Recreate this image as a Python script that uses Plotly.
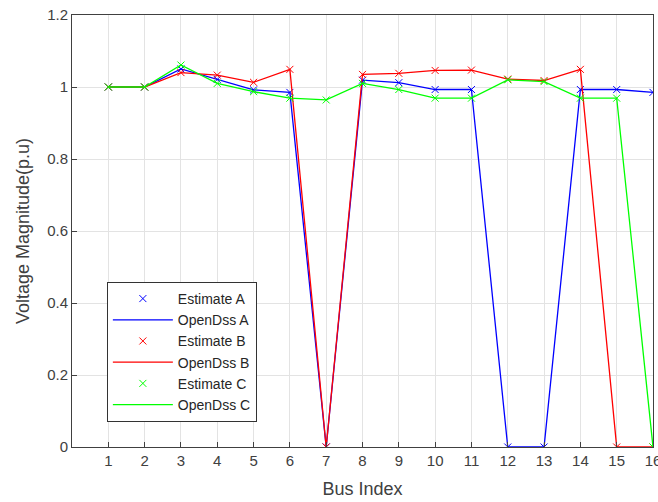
import plotly.graph_objects as go

bus = list(range(1, 17))
phase_a = [1.0, 1.0, 1.05, 1.021, 0.992, 0.985, 0.0, 1.019, 1.012, 0.993, 0.993, 0.0, 0.0, 0.993, 0.993, 0.985]
phase_b = [1.0, 1.0, 1.04, 1.033, 1.013, 1.049, 0.0, 1.035, 1.038, 1.046, 1.047, 1.022, 1.018, 1.049, 0.0, 0.0]
phase_c = [1.0, 1.0, 1.061, 1.01, 0.987, 0.969, 0.964, 1.01, 0.993, 0.969, 0.969, 1.02, 1.015, 0.969, 0.969, 0.0]
x_ticks = list(range(1, 17))
y_ticks = [0, 0.2, 0.4, 0.6, 0.8, 1.0, 1.2]
y_tick_text = ["0", "0.2", "0.4", "0.6", "0.8", "1", "1.2"]

series = [("A", phase_a, "rgb(0,0,255)"), ("B", phase_b, "rgb(255,0,0)"), ("C", phase_c, "rgb(0,255,0)")]

fig = go.Figure()
for name, vals, col in series:
    fig.add_trace(go.Scatter(x=bus, y=vals, mode="markers", name="Estimate " + name,
                             marker=dict(symbol="x-thin", size=7, line=dict(color=col, width=1), color=col)))
    fig.add_trace(go.Scatter(x=bus, y=vals, mode="lines", name="OpenDss " + name,
                             line=dict(color=col, width=1.3)))

font = "Liberation Sans, Arial, sans-serif"
fig.update_layout(
    width=658, height=502,
    margin=dict(l=72, r=5, t=15, b=55),
    paper_bgcolor="white", plot_bgcolor="white",
    font=dict(family=font, size=15, color="#404040"),
    showlegend=True,
    legend=dict(x=0.06, y=0.382, xanchor="left", yanchor="top",
                bgcolor="white", bordercolor="#333333", borderwidth=1,
                font=dict(family=font, size=14, color="#262626"),
                itemwidth=60, tracegroupgap=0),
    xaxis=dict(range=[0, 16], tickvals=x_ticks, ticks="inside", ticklen=5, tickcolor="#404040",
               ticklabeloverflow="allow", automargin=False,
               showgrid=True, gridcolor="#e3e3e3", gridwidth=1,
               showline=True, linecolor="#404040", linewidth=1, mirror=True, zeroline=False,
               title=dict(text="Bus Index", font=dict(size=18, color="#404040"), standoff=14),
               tickfont=dict(size=15, color="#404040")),
    yaxis=dict(range=[0, 1.2], tickvals=y_ticks, ticktext=y_tick_text, ticks="inside", ticklen=5,
               tickcolor="#404040", automargin=False,
               showgrid=True, gridcolor="#e3e3e3", gridwidth=1,
               showline=True, linecolor="#404040", linewidth=1, mirror=True, zeroline=False,
               title=dict(text="Voltage Magnitude(p.u)", font=dict(size=18, color="#404040"), standoff=12),
               tickfont=dict(size=15, color="#404040")),
)

fig.write_html("out.html")
